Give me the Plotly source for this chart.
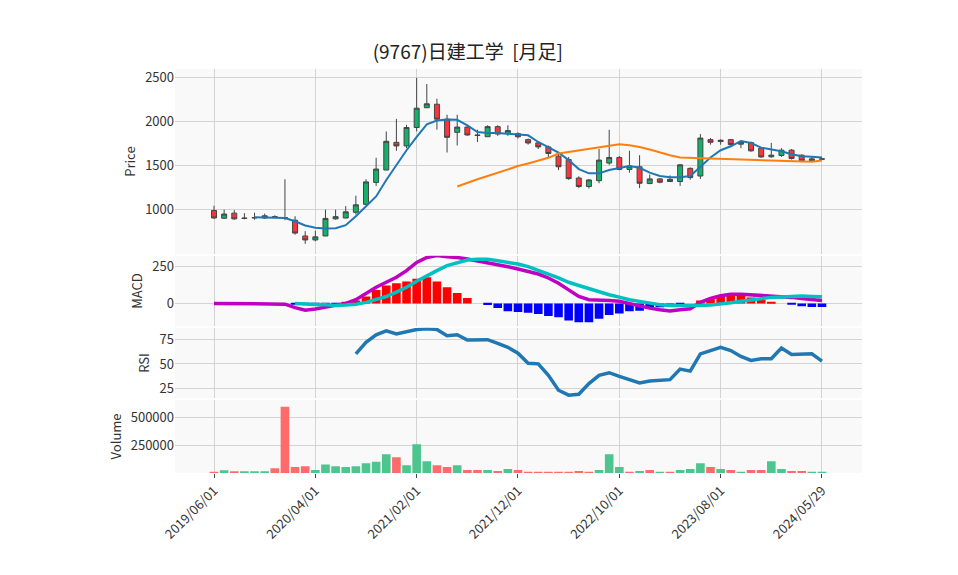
import pandas as pd
import plotly.graph_objs as go
from plotly.subplots import make_subplots

# monthly dates (category axis), last point is the latest daily close
dates = [f"{y}/{m:02d}/01" for y in range(2019, 2025) for m in range(1, 13)]
dates = [d for d in dates if "2019/06/01" <= d <= "2024/05/01"] + ["2024/05/29"]

opens = [990, 902, 960, 905, 905, 905, 920, 910, 880, 700, 655, 700, 895, 905, 970, 1060, 1310, 1451, 1766, 1725,
         1935, 2160, 2200, 2030, 1880, 1940, 1850, 1830, 1945, 1865, 1865, 1797, 1760, 1714, 1609, 1571, 1360, 1263,
         1330, 1530, 1594, 1458, 1488, 1297, 1350, 1320, 1320, 1470, 1383, 1797, 1775, 1797, 1745, 1763, 1700, 1602,
         1617, 1677, 1620, 1556, 1578]
highs = [1045, 1000, 995, 960, 965, 955, 935, 1346, 925, 755, 760, 1000, 1000, 1040, 1158, 1346, 1590, 1890, 2033,
         1965, 2500, 2430, 2263, 2080, 2080, 1960, 1910, 1960, 1960, 1960, 1880, 1810, 1770, 1730, 1640, 1600, 1380,
         1350, 1690, 1909, 1610, 1670, 1620, 1400, 1360, 1390, 1520, 1480, 1860, 1815, 1800, 1805, 1790, 1775, 1710,
         1760, 1700, 1690, 1630, 1600, 1590]
lows = [895, 895, 885, 890, 885, 895, 905, 880, 715, 610, 640, 700, 885, 900, 945, 1055, 1270, 1450, 1670, 1700,
        1890, 2160, 1910, 1650, 1730, 1840, 1770, 1830, 1840, 1840, 1810, 1740, 1690, 1600, 1450, 1340, 1245, 1240,
        1300, 1510, 1450, 1420, 1245, 1290, 1300, 1315, 1270, 1340, 1350, 1740, 1740, 1730, 1700, 1660, 1590, 1590,
        1600, 1570, 1540, 1545, 1570]
closes = [905, 950, 895, 900, 910, 930, 915, 905, 733, 655, 690, 900, 920, 975, 1055, 1316, 1462, 1778, 1725, 1935,
          2155, 2205, 2030, 1823, 1940, 1850, 1845, 1945, 1860, 1900, 1830, 1759, 1714, 1639, 1488, 1353, 1263, 1338,
          1564, 1594, 1458, 1496, 1300, 1350, 1312, 1345, 1510, 1365, 1815, 1767, 1790, 1740, 1770, 1669, 1600, 1620,
          1677, 1583, 1556, 1578, 1575]

N = None
ma_short = [N, N, N, N, 913, 913, 913, 905, 868, 819, 793, 785, 789, 823, 925, 1037, 1150, 1338, 1507, 1676, 1827,
            1970, 2015, 2026, 2022, 1958, 1883, 1872, 1872, 1864, 1853, 1846, 1770, 1714, 1650, 1564, 1462, 1413, 1413,
            1451, 1477, 1496, 1477, 1421, 1383, 1368, 1368, 1383, 1488, 1594, 1676, 1721, 1781, 1759, 1706, 1684, 1665,
            1631, 1609, 1601, 1594]
ma_long = [N] * 24 + [1263, 1308, 1346, 1383, 1421, 1458, 1496, 1526, 1556, 1590, 1639, 1657, 1676, 1695, 1714, 1733,
                      1744, 1733, 1714, 1684, 1650, 1620, 1594, 1590, 1590, 1582, 1582, 1575, 1571, 1564, 1564, 1556,
                      1556, 1549, 1549, 1545, 1560]

macd = [0, 0, 0, 0, 0, 0, 0, -5, -29, -47, -38, -25, -14, 0, 25, 70, 110, 144, 178, 223, 279, 313, 326, 317, 313,
        302, 290, 275, 264, 250, 234, 218, 200, 173, 137, 92, 47, 25, 25, 20, 14, -2, -20, -32, -43, -52, -43, -36, 7,
        34, 52, 63, 63, 59, 54, 54, 50, 41, 34, 25, 20]
signal = [N] * 8 + [0, -5, -7, -9, -14, -11, -5, 7, 25, 47, 77, 110, 151, 189, 223, 257, 279, 295, 300, 300, 290,
                    279, 268, 250, 228, 200, 173, 144, 122, 99, 77, 59, 43, 25, 14, 2, -9, -14, -16, -16, -14, -11, -5,
                    5, 14, 25, 32, 41, 45, 50, 50, 47, 45]
hist = [N] * 8 + [-5, -6, -6, -5, -4, 5, 20, 47, 92, 122, 137, 149, 167, 178, 149, 110, 70, 36, 0, -11, -32, -54,
                  -59, -63, -72, -86, -95, -117, -128, -128, -104, -79, -68, -54, -50, -38, -27, -16, -5, 0, 20, 32,
                  47, 52, 50, 40, 25, 10, 0, -5, -20, -25, -25]

rsi = [N] * 14 + [60.4, 72.2, 80, 84, 80.8, 83.5, 85.5, 86.2, 85.5, 79, 80, 74.7, 74.7, 75, 71.2, 67.1, 61, 50.8,
                  50.1, 38.3, 23, 17.9, 18.9, 29.8, 38.3, 41, 37.2, 33.9, 30.4, 32.4, 33, 33.9, 44.7, 42.6, 60.4,
                  63.8, 67.1, 63.8, 57.7, 53.6, 55.3, 55.3, 66.4, 59.7, 59.7, 60.4, 52.9]

volume = [5000, 24000, 15000, 15000, 15000, 15000, 42000, 598000, 54000, 62000, 27000, 77000, 62000, 54000, 62000,
          89000, 101000, 170000, 143000, 71000, 259000, 107000, 71000, 54000, 71000, 27000, 27000, 27000, 18000, 36000,
          27000, 12000, 12000, 12000, 12000, 6000, 18000, 8000, 27000, 170000, 54000, 6000, 18000, 27000, 8000, 8000,
          27000, 36000, 89000, 54000, 36000, 27000, 8000, 27000, 27000, 107000, 36000, 18000, 18000, 8000, 8000]
vol_dir = "rgrgggrrrrggggggggrgggrrgrrgrgrrrrrrrrgggrgrgrgggrgrgrrggrrgg"

vol_colors = ['#ff6b6b' if d == 'r' else '#4cc58e' for d in vol_dir]
hist_colors = ['red' if (h or 0) >= 0 else 'blue' for h in hist]

fig = make_subplots(rows=4, cols=1, shared_xaxes=True, vertical_spacing=0.004,
                    row_heights=[0.463, 0.176, 0.176, 0.183])

fig.add_trace(go.Candlestick(x=dates, open=opens, high=highs, low=lows, close=closes,
                             increasing=dict(line=dict(color='#444444', width=1), fillcolor='#13b26b'),
                             decreasing=dict(line=dict(color='#444444', width=1), fillcolor='#ff333a'),
                             whiskerwidth=0, showlegend=False), row=1, col=1)
fig.add_trace(go.Scatter(x=dates, y=ma_short, mode='lines', line=dict(color='#1f77b4', width=2)), row=1, col=1)
fig.add_trace(go.Scatter(x=dates, y=ma_long, mode='lines', line=dict(color='#ff7f0e', width=2)), row=1, col=1)

fig.add_trace(go.Bar(x=dates, y=hist, marker_color=hist_colors, marker_line_width=0), row=2, col=1)
fig.add_trace(go.Scatter(x=dates, y=macd, mode='lines', line=dict(color='#c000c0', width=3.5)), row=2, col=1)
fig.add_trace(go.Scatter(x=dates, y=signal, mode='lines', line=dict(color='#00c0c0', width=3.5)), row=2, col=1)

fig.add_trace(go.Scatter(x=dates, y=rsi, mode='lines', line=dict(color='#1f77b4', width=3.5)), row=3, col=1)

fig.add_trace(go.Bar(x=dates, y=volume, marker_color=vol_colors, marker_line_width=0), row=4, col=1)

tick_dates = [dates[i] for i in range(0, 61, 10)]
for r in range(1, 5):
    fig.update_xaxes(type='category', range=[-3.85, 63.95], tickvals=tick_dates, automargin=False,
                     gridcolor='#d3d3d3', showticklabels=(r == 4), row=r, col=1)
fig.update_xaxes(tickangle=-45, ticks='outside', ticklen=4, tickcolor='#444', rangeslider_visible=False,
                 row=4, col=1)
fig.update_xaxes(rangeslider_visible=False, row=1, col=1)

fig.update_yaxes(title_text='Price', range=[493, 2601], tickvals=[1000, 1500, 2000, 2500], row=1, col=1)
fig.update_yaxes(title_text='MACD', range=[-155, 324], tickvals=[0, 250], row=2, col=1)
fig.update_yaxes(title_text='RSI', range=[14.8, 87.2], tickvals=[25, 50, 75], row=3, col=1)
fig.update_yaxes(title_text='Volume', range=[0, 660700], tickvals=[250000, 500000], tickformat='d',
                 row=4, col=1)
fig.update_yaxes(gridcolor='#d3d3d3', zeroline=False, automargin=False, title_standoff=6,
                 title_font=dict(size=13))

fig.update_layout(
    width=958, height=575,
    title=dict(text='(9767)日建工学  [月足]', x=0.48, y=0.935, xanchor='center', font=dict(size=19, color='#222')),
    font=dict(family='Noto Sans CJK JP', size=13, color='#333'),
    paper_bgcolor='white', plot_bgcolor='#f9f9f9',
    showlegend=False, bargap=0.15,
    margin=dict(l=167, r=104, t=61, b=110),
)

fig.write_html("out.html")
